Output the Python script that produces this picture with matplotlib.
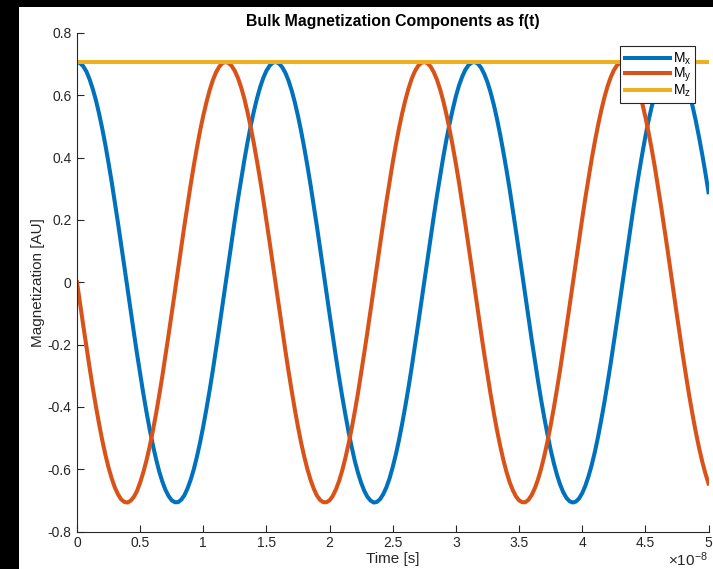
import numpy as np
import matplotlib
matplotlib.use('Agg')
from matplotlib import pyplot as plt
from matplotlib.patches import Rectangle

plt.rcParams['font.family'] = 'Liberation Sans'
plt.rcParams['mathtext.fontset'] = 'custom'
plt.rcParams['mathtext.rm'] = 'Liberation Sans'
plt.rcParams['mathtext.default'] = 'rm'
plt.rcParams['axes.unicode_minus'] = False

# time samples, in units of 1e-8 s (step 0.025)
t = [0.000, 0.025, 0.050, 0.075, 0.100, 0.125, 0.150, 0.175, 0.200, 0.225,
     0.250, 0.275, 0.300, 0.325, 0.350, 0.375, 0.400, 0.425, 0.450, 0.475,
     0.500, 0.525, 0.550, 0.575, 0.600, 0.625, 0.650, 0.675, 0.700, 0.725,
     0.750, 0.775, 0.800, 0.825, 0.850, 0.875, 0.900, 0.925, 0.950, 0.975,
     1.000, 1.025, 1.050, 1.075, 1.100, 1.125, 1.150, 1.175, 1.200, 1.225,
     1.250, 1.275, 1.300, 1.325, 1.350, 1.375, 1.400, 1.425, 1.450, 1.475,
     1.500, 1.525, 1.550, 1.575, 1.600, 1.625, 1.650, 1.675, 1.700, 1.725,
     1.750, 1.775, 1.800, 1.825, 1.850, 1.875, 1.900, 1.925, 1.950, 1.975,
     2.000, 2.025, 2.050, 2.075, 2.100, 2.125, 2.150, 2.175, 2.200, 2.225,
     2.250, 2.275, 2.300, 2.325, 2.350, 2.375, 2.400, 2.425, 2.450, 2.475,
     2.500, 2.525, 2.550, 2.575, 2.600, 2.625, 2.650, 2.675, 2.700, 2.725,
     2.750, 2.775, 2.800, 2.825, 2.850, 2.875, 2.900, 2.925, 2.950, 2.975,
     3.000, 3.025, 3.050, 3.075, 3.100, 3.125, 3.150, 3.175, 3.200, 3.225,
     3.250, 3.275, 3.300, 3.325, 3.350, 3.375, 3.400, 3.425, 3.450, 3.475,
     3.500, 3.525, 3.550, 3.575, 3.600, 3.625, 3.650, 3.675, 3.700, 3.725,
     3.750, 3.775, 3.800, 3.825, 3.850, 3.875, 3.900, 3.925, 3.950, 3.975,
     4.000, 4.025, 4.050, 4.075, 4.100, 4.125, 4.150, 4.175, 4.200, 4.225,
     4.250, 4.275, 4.300, 4.325, 4.350, 4.375, 4.400, 4.425, 4.450, 4.475,
     4.500, 4.525, 4.550, 4.575, 4.600, 4.625, 4.650, 4.675, 4.700, 4.725,
     4.750, 4.775, 4.800, 4.825, 4.850, 4.875, 4.900, 4.925, 4.950, 4.975,
     5.000]

mx = [0.707, 0.703, 0.693, 0.676, 0.651, 0.620, 0.584, 0.541, 0.493, 0.440,
      0.382, 0.321, 0.256, 0.189, 0.120, 0.050, -0.021, -0.091, -0.161, -0.229,
      -0.294, -0.357, -0.416, -0.471, -0.521, -0.566, -0.606, -0.639, -0.666, -0.686,
      -0.700, -0.706, -0.706, -0.698, -0.684, -0.662, -0.634, -0.600, -0.559, -0.513,
      -0.462, -0.406, -0.347, -0.284, -0.217, -0.149, -0.079, -0.008, 0.062, 0.132,
      0.201, 0.268, 0.331, 0.392, 0.449, 0.501, 0.548, 0.590, 0.626, 0.656,
      0.679, 0.695, 0.705, 0.707, 0.702, 0.690, 0.672, 0.647, 0.615, 0.577,
      0.533, 0.484, 0.430, 0.372, 0.310, 0.245, 0.178, 0.109, 0.038, -0.033,
      -0.103, -0.172, -0.240, -0.305, -0.367, -0.425, -0.480, -0.529, -0.574, -0.612,
      -0.644, -0.670, -0.689, -0.701, -0.707, -0.705, -0.696, -0.680, -0.658, -0.629,
      -0.593, -0.552, -0.505, -0.453, -0.397, -0.337, -0.273, -0.206, -0.137, -0.067,
      0.003, 0.074, 0.144, 0.212, 0.278, 0.341, 0.402, 0.458, 0.509, 0.555,
      0.597, 0.632, 0.660, 0.682, 0.697, 0.705, 0.707, 0.701, 0.688, 0.668,
      0.642, 0.609, 0.570, 0.525, 0.475, 0.420, 0.362, 0.300, 0.234, 0.166,
      0.097, 0.027, -0.044, -0.114, -0.184, -0.251, -0.316, -0.378, -0.435, -0.488,
      -0.537, -0.580, -0.618, -0.649, -0.674, -0.692, -0.703, -0.707, -0.704, -0.694,
      -0.677, -0.653, -0.623, -0.587, -0.545, -0.497, -0.444, -0.387, -0.326, -0.262,
      -0.195, -0.126, -0.056, 0.015, 0.086, 0.156, 0.223, 0.289, 0.352, 0.411,
      0.467, 0.518, 0.563, 0.603, 0.637, 0.664, 0.685, 0.699, 0.706, 0.706,
      0.699, 0.685, 0.664, 0.636, 0.603, 0.563, 0.517, 0.466, 0.411, 0.352,
      0.289]

my = [0.000, -0.071, -0.140, -0.208, -0.275, -0.339, -0.399, -0.455, -0.507, -0.554,
      -0.595, -0.630, -0.659, -0.681, -0.697, -0.705, -0.707, -0.701, -0.689, -0.670,
      -0.643, -0.610, -0.572, -0.528, -0.478, -0.424, -0.365, -0.303, -0.237, -0.169,
      -0.100, -0.030, 0.041, 0.111, 0.181, 0.248, 0.313, 0.375, 0.433, 0.487,
      0.535, 0.578, 0.616, 0.648, 0.673, 0.691, 0.703, 0.707, 0.704, 0.694,
      0.678, 0.655, 0.625, 0.589, 0.546, 0.499, 0.446, 0.389, 0.329, 0.265,
      0.198, 0.129, 0.059, -0.012, -0.082, -0.152, -0.220, -0.286, -0.349, -0.409,
      -0.465, -0.516, -0.561, -0.601, -0.635, -0.663, -0.685, -0.699, -0.706, -0.706,
      -0.700, -0.686, -0.665, -0.638, -0.604, -0.564, -0.519, -0.469, -0.414, -0.355,
      -0.291, -0.225, -0.158, -0.088, -0.018, 0.053, 0.123, 0.192, 0.259, 0.323,
      0.385, 0.442, 0.495, 0.543, 0.585, 0.622, 0.653, 0.677, 0.694, 0.704,
      0.707, 0.703, 0.692, 0.674, 0.650, 0.619, 0.582, 0.539, 0.490, 0.437,
      0.380, 0.319, 0.253, 0.186, 0.117, 0.047, -0.024, -0.094, -0.164, -0.232,
      -0.297, -0.360, -0.419, -0.474, -0.524, -0.569, -0.608, -0.641, -0.667, -0.687,
      -0.700, -0.706, -0.706, -0.698, -0.683, -0.661, -0.633, -0.598, -0.557, -0.511,
      -0.460, -0.404, -0.344, -0.281, -0.214, -0.146, -0.076, -0.005, 0.065, 0.135,
      0.204, 0.271, 0.334, 0.395, 0.451, 0.503, 0.550, 0.592, 0.628, 0.657,
      0.680, 0.696, 0.705, 0.707, 0.702, 0.690, 0.671, 0.645, 0.613, 0.575,
      0.531, 0.482, 0.428, 0.370, 0.307, 0.242, 0.175, 0.106, 0.035, -0.036,
      -0.106, -0.175, -0.243, -0.308, -0.370, -0.428, -0.482, -0.531, -0.575, -0.613,
      -0.646]

mz = [0.707] * len(t)

labels = [r'$M_x$', r'$M_y$', r'$M_z$']
xticks = [0, 0.5, 1, 1.5, 2, 2.5, 3, 3.5, 4, 4.5, 5]
xticklabels = ['0', '0.5', '1', '1.5', '2', '2.5', '3', '3.5', '4', '4.5', '5']
yticks = [-0.8, -0.6, -0.4, -0.2, 0, 0.2, 0.4, 0.6, 0.8]
yticklabels = ['-0.8', '-0.6', '-0.4', '-0.2', '0', '0.2', '0.4', '0.6', '0.8']

W, H = 713, 569
fig = plt.figure(figsize=(W / 100, H / 100), dpi=100, facecolor='black')
# white figure area (black strip on the left and top)
fig.add_artist(Rectangle((19 / W, 0), 1, (H - 7) / H, transform=fig.transFigure,
                         facecolor='white', edgecolor='none', zorder=-10))

ax = fig.add_axes([77 / W, (H - 531.5) / H, (708.5 - 77) / W, (531.5 - 33) / H])
ax.plot(t, mx, color='#0072BD', lw=2.9, solid_joinstyle='round', label=labels[0])
ax.plot(t, my, color='#D95319', lw=2.9, solid_joinstyle='round', label=labels[1])
ax.plot(t, mz, color='#EDB120', lw=2.9, label=labels[2])

ax.set_xlim(0, 5)
ax.set_ylim(-0.8, 0.8)
ax.set_xticks(xticks)
ax.set_xticklabels(xticklabels)
ax.set_yticks(yticks)
ax.set_yticklabels(yticklabels)

dark = '#262626'
for side in ['top', 'right']:
    ax.spines[side].set_visible(False)
for side in ['left', 'bottom']:
    ax.spines[side].set_color(dark)
    ax.spines[side].set_linewidth(0.8)
ax.tick_params(direction='in', length=5, width=0.8, color=dark,
               labelcolor=dark, labelsize=10)
ax.tick_params(axis='y', pad=4)
ax.tick_params(axis='x', pad=3.5)

ax.set_title('Bulk Magnetization Components as f(t)', fontsize=11.4,
             fontweight='bold', pad=5)
ax.set_xlabel('Time [s]', fontsize=11, color=dark, labelpad=1.5)
ax.set_ylabel('Magnetization [AU]', fontsize=11, color=dark, labelpad=1.5)

fig.text(708 / W, 3 / H, r'$\times10^{-8}$', ha='right', va='baseline',
         fontsize=11, color=dark)

leg = ax.legend(loc='upper right', fontsize=10, fancybox=False, framealpha=1,
                edgecolor=dark, handlelength=3.3, handletextpad=0.15,
                labelspacing=-0.08, borderpad=0.3, borderaxespad=0.95)
leg.get_frame().set_linewidth(0.8)

fig.savefig('out.png', dpi=100, facecolor='black')
